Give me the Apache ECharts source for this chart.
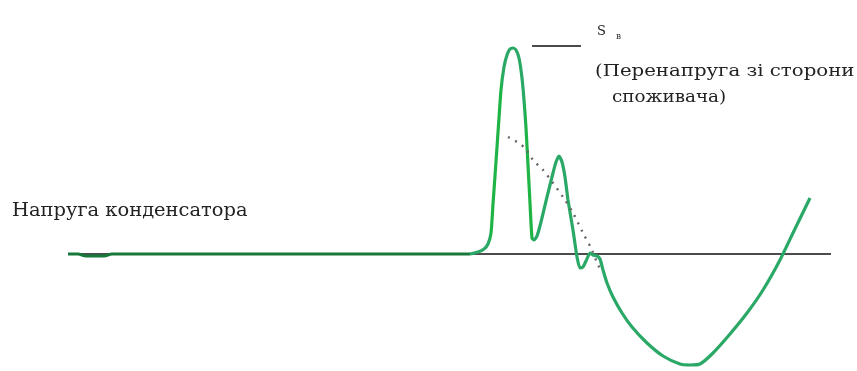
<!DOCTYPE html>
<html><head><meta charset="utf-8">
<script src="https://cdn.jsdelivr.net/npm/echarts@6/dist/echarts.min.js"></script>
<style>html,body{margin:0;padding:0;background:#fff}#c{width:857px;height:371px}</style>
</head><body><div id="c"></div>
<script>
// time (px-like units) and voltage values
const flatX = [68, 78, 86, 95, 104, 112, 470];
const flatV = [0, 0, -2, -2, -2, 0, 0];
const curveX = [470,478,484,488,491,493,495,497,499,501,504,507,510,513,516,519,522,524,526,528,530,532,534,537,541,547,553,556,559,562,565,568,573,577,580,583,586,590,593,597,600,603,607,613,622,632,647,663,680,690,700,713,730,747,763,780,793,810];
const curveV = [0,2,5,10,21,50,78,107,136,164,187,199,205,206,204,196,176,154,126,89,51,16,14,18,32,57,81,92,98,92,77,54,24,-3,-14,-13,-7,1,-1,-2,-5,-16,-29,-43,-59,-73,-89,-102,-110,-111,-110,-99,-80,-59,-36,-6,21,56];
const dashX = [508,517,525,533,543,553,563,573,583,592,598,603];
const dashV = [117,112,106,94,84,71,57,41,21,4,-11,-18];
const baseX = [68, 831];
const baseV = [0, 0];
const legendX = [532, 581];
const legendV = [208, 208];
const labelCap = 'Напруга конденсатора';
const labelS = 'S';
const labelSub = 'в';
const labelOver1 = '(Перенапруга зі сторони';
const labelOver2 = 'споживача)';

const zip = (a, b) => a.map((x, i) => [x, b[i]]);
const chart = echarts.init(document.getElementById('c'));
const serif = '"DejaVu Serif", "Liberation Serif", serif';
chart.setOption({
  animation: false,
  grid: {left: 0, right: 0, top: 0, bottom: 0},
  xAxis: {type: 'value', min: 0, max: 857, show: false},
  yAxis: {type: 'value', min: -117, max: 254, show: false},
  visualMap: {
    show: false, type: 'piecewise', seriesIndex: 2, dimension: 0,
    pieces: [
      {lt: 490, color: '#2aa866'},
      {gte: 490, lt: 502, color: '#1fb446'},
      {gte: 502, lt: 525, color: '#2aa866'},
      {gte: 525, lt: 533, color: '#1fb446'},
      {gte: 533, color: '#2aa866'}
    ]
  },
  series: [
    {type: 'line', data: zip(baseX, baseV), symbol: 'none', lineStyle: {color: '#111', width: 1.5}, z: 1},
    {type: 'line', data: zip(flatX, flatV), symbol: 'none', smooth: 0.3, lineStyle: {color: '#17783a', width: 3}, z: 2},
    {type: 'line', data: zip(curveX, curveV), symbol: 'none', smooth: 0.2, lineStyle: {width: 3.2}, z: 3},
    {type: 'line', data: zip(dashX, dashV), symbol: 'none', smooth: 0.3, lineStyle: {color: '#666', width: 2.4, type: [2, 6]}, z: 4},
    {type: 'line', data: zip(legendX, legendV), symbol: 'none', lineStyle: {color: '#111', width: 1.5}, z: 1}
  ],
  graphic: [
    {type: 'text', x: 12, y: 202, scaleX: 1.08, style: {text: labelCap, font: '18px ' + serif, fill: '#222'}},
    {type: 'text', x: 597, y: 25, style: {text: labelS, font: '13px ' + serif, fill: '#222'}},
    {type: 'text', x: 616, y: 32, style: {text: labelSub, font: '9px ' + serif, fill: '#333'}},
    {type: 'text', x: 595, y: 63, scaleX: 1.16, style: {text: labelOver1, font: '17px ' + serif, fill: '#222'}},
    {type: 'text', x: 612, y: 89, scaleX: 1.08, style: {text: labelOver2, font: '17px ' + serif, fill: '#222'}}
  ]
});
</script></body></html>
